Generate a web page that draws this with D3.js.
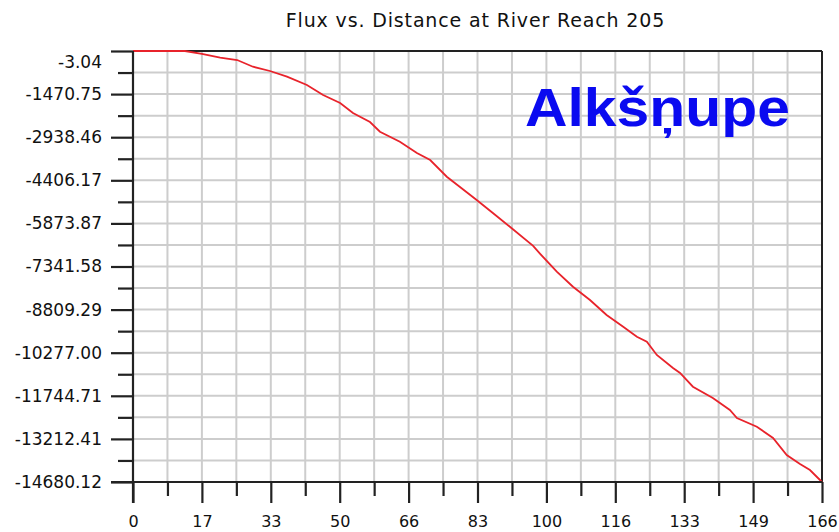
<!DOCTYPE html>
<html>
<head>
<meta charset="utf-8">
<script src="https://cdn.jsdelivr.net/npm/d3@7"></script>
<style>
  html, body { margin: 0; padding: 0; background: #fff; }
  svg { display: block; }
</style>
</head>
<body>
<svg id="chart" width="839" height="532"></svg>
<script>
const titleText = "Flux vs. Distance at River Reach 205";
const seriesName = "Alkšņupe";
const xTickLabels = ["0","17","33","50","66","83","100","116","133","149","166"];
const yTickLabels = ["-3.04","-1470.75","-2938.46","-4406.17","-5873.87","-7341.58","-8809.29","-10277.00","-11744.71","-13212.41","-14680.12"];
const distance = [0, 12.5, 16.6, 21.0, 25.1, 28.9, 33.0, 37.1, 41.9, 45.8, 49.9, 53.0, 57.1, 59.5, 64.3, 68.4, 71.6, 75.6, 78.7, 82.8, 86.7, 90.8, 96.4, 98.1, 102.1, 106.0, 110.1, 114.1, 118.1, 121.4, 123.8, 126.2, 130.1, 131.8, 134.9, 139.7, 143.8, 145.5, 150.3, 154.2, 157.5, 160.7, 163.1, 166];
const flux = [-3.04, -3.04, -100, -231, -310, -538, -684, -878, -1161, -1501, -1774, -2114, -2421, -2751, -3092, -3477, -3715, -4284, -4625, -5077, -5520, -5986, -6640, -6910, -7519, -8030, -8482, -8993, -9392, -9732, -9902, -10355, -10798, -10968, -11435, -11820, -12228, -12501, -12797, -13182, -13761, -14067, -14272, -14680.12];

const svg = d3.select("#chart");
const L = 133, R = 822, T = 51, B = 482;
const xMax = 166;
const yVals = yTickLabels.map(Number);
const x = d3.scaleLinear().domain([0, xMax]).range([L, R]);
const y = d3.scaleLinear().domain([d3.min(yVals), d3.max(yVals)]).range([B, T]);

const xMajor = d3.range(0, 11).map(i => i * xMax / 10);
const xMinor = d3.range(0, 10).map(i => (i + 0.5) * xMax / 10);
const yMajor = yVals;
const yMinor = d3.range(0, 10).map(i => (yVals[i] + yVals[i + 1]) / 2);

svg.append("rect").attr("width", 839).attr("height", 532).attr("fill", "#fff");

// grid
const grid = svg.append("g").attr("stroke", "#cdcdcd").attr("stroke-width", 2);
grid.selectAll("line.v").data(xMajor.concat(xMinor)).join("line")
  .attr("x1", d => x(d)).attr("x2", d => x(d)).attr("y1", T).attr("y2", B);
grid.selectAll("line.h").data(yMajor.concat(yMinor)).join("line")
  .attr("class", "h")
  .attr("y1", d => y(d)).attr("y2", d => y(d)).attr("x1", L).attr("x2", R);

// frame (top and right)
svg.append("line").attr("x1", L).attr("x2", R).attr("y1", T).attr("y2", T).attr("stroke", "#222").attr("stroke-width", 2);
svg.append("line").attr("x1", R).attr("x2", R).attr("y1", T).attr("y2", B).attr("stroke", "#222").attr("stroke-width", 2);

// series line
const line = d3.line().x((d, i) => x(distance[i])).y(d => y(d));
svg.append("path").datum(flux).attr("d", line)
  .attr("fill", "none").attr("stroke", "#e8232b").attr("stroke-width", 1.8);

// axes
const tickColor = "#222";
const yAxis = d3.axisLeft(y).tickValues(yMajor).tickSize(22).tickPadding(9)
  .tickFormat((d, i) => yTickLabels[i]);
const gy = svg.append("g").attr("transform", `translate(${L},0)`).call(yAxis);
const yMinorAxis = d3.axisLeft(y).tickValues(yMinor).tickSize(15).tickFormat("");
const gy2 = svg.append("g").attr("transform", `translate(${L},0)`).call(yMinorAxis);

const xAxis = d3.axisBottom(x).tickValues(xMajor).tickSize(21).tickPadding(13)
  .tickFormat((d, i) => xTickLabels[i]);
const gx = svg.append("g").attr("transform", `translate(0,${B})`).call(xAxis);
const xMinorAxis = d3.axisBottom(x).tickValues(xMinor).tickSize(14).tickFormat("");
const gx2 = svg.append("g").attr("transform", `translate(0,${B})`).call(xMinorAxis);

[gy, gy2, gx, gx2].forEach(g => {
  g.select(".domain").attr("stroke", tickColor).attr("stroke-width", 2.2);
  g.selectAll(".tick line").attr("stroke", tickColor).attr("stroke-width", 2.2);
  g.selectAll("text").attr("fill", "#111")
    .style("font-family", "'DejaVu Sans', sans-serif");
});
gy.selectAll("text").style("font-size", "17px");
gy.selectAll("text").filter((d, i) => i === 0).attr("dy", "0.95em");
gx.selectAll("text").style("font-size", "16px");
gy.select(".domain").attr("d", `M0,${T}V${B + 21}`);
gx.select(".domain").attr("d", `M${L - 22},0H${R}`);
gy2.select(".domain").remove();
gx2.select(".domain").remove();

// title
svg.append("text").attr("x", (L + R) / 2 - 2).attr("y", 27)
  .attr("text-anchor", "middle")
  .style("font-family", "'DejaVu Sans', sans-serif").style("font-size", "19px")
  .style("letter-spacing", "0.85px")
  .attr("fill", "#111")
  .text(titleText);

// series label
svg.append("text").attr("x", 525).attr("y", 126)
  .attr("textLength", 265).attr("lengthAdjust", "spacingAndGlyphs")
  .style("font-family", "'Liberation Sans', Arial, sans-serif")
  .style("font-weight", "bold").style("font-size", "54px")
  .attr("fill", "#0a0af0")
  .text(seriesName);
</script>
</body>
</html>
